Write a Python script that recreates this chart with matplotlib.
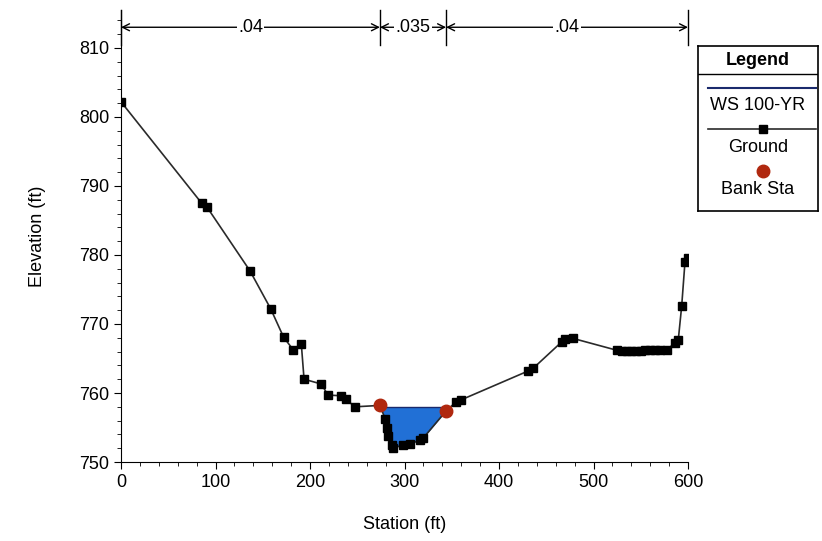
import numpy as np
import matplotlib.pyplot as plt
from matplotlib.lines import Line2D

plt.rcParams['font.family'] = ['Liberation Sans', 'DejaVu Sans']

# ground profile
station = [0, 85.4, 90.7, 136.5, 158.4, 172.0, 182.0, 190.8, 193.7, 212, 219, 233,
           237.8, 247.6, 274, 279.4, 281.2, 282.9, 286.4, 288.2, 298.7, 305.8,
           316.4, 320, 344, 354.5, 359.8, 431, 436.3, 466.3, 469.8, 478.6,
           524.5, 530, 535, 540, 545, 550, 555, 560, 565, 570, 577.4,
           586.2, 589.7, 593.3, 596.8, 600]
elevation = [802.2, 787.5, 787.0, 777.7, 772.2, 768.1, 766.3, 767.1, 762.0, 761.3,
             759.7, 759.6, 759.1, 758.0, 758.2, 756.3, 754.9, 753.7, 752.5, 752.0,
             752.5, 752.6, 753.2, 753.5, 757.4, 758.7, 759.0, 763.2, 763.6, 767.4,
             767.8, 767.9, 766.2, 766.1, 766.1, 766.1, 766.1, 766.1, 766.2, 766.2,
             766.2, 766.3, 766.3, 767.2, 767.7, 772.6, 779.0, 779.5]

bank_sta = [274, 344]
bank_elev = [758.2, 757.4]
ws_elev = 758.0

n_breaks = [0, 274, 344, 600]
n_values = ['.04', '.035', '.04']

fs = 13

fig = plt.figure(figsize=(8.22, 5.41), dpi=100)
ax = fig.add_axes([0.1472, 0.146, 0.6898, 0.8355])

st = np.array(station)
el = np.array(elevation)
wet = (st >= bank_sta[0]) & (st <= bank_sta[1])
ax.fill_between(st, el, ws_elev, where=wet & (el <= ws_elev), interpolate=True,
                color='#2170d6', lw=0, zorder=1)
ax.plot(bank_sta, [ws_elev, ws_elev], color='#1a2a6c', lw=1, zorder=2)
ax.plot(st, el, color='#2a2a2a', lw=1.2, marker='s', ms=6,
        mfc='black', mec='black', zorder=3)
ax.plot(bank_sta, bank_elev, 'o', color='#b0280f', ms=9, zorder=4)

ax.set_xlim(0, 600)
ax.set_ylim(750, 815.5)
ax.set_xticks(np.arange(0, 601, 100))
ax.set_xticks(np.arange(0, 601, 20), minor=True)
ax.set_yticks(np.arange(750, 811, 10))
ax.set_yticks(np.arange(750, 816, 2), minor=True)
ax.tick_params(which='major', length=5, labelsize=fs)
ax.tick_params(which='minor', length=3)
for s in ['top', 'right']:
    ax.spines[s].set_visible(False)
ax.set_xlabel('Station (ft)', fontsize=fs, labelpad=18)
ax.set_ylabel('Elevation (ft)', fontsize=fs, labelpad=24)

# Manning's n bands along the top
y_arr = 813.0
for b in n_breaks:
    ax.plot([b, b], [810.4, 815.5], color='black', lw=1, clip_on=False)
for i, txt in enumerate(n_values):
    x0, x1 = n_breaks[i], n_breaks[i + 1]
    ax.annotate('', xy=(x0, y_arr), xytext=(x1, y_arr),
                arrowprops=dict(arrowstyle='<->,head_length=0.5,head_width=0.25',
                                color='black', lw=1, shrinkA=0, shrinkB=0),
                annotation_clip=False)
    ax.text((x0 + x1) / 2, y_arr, txt, ha='center', va='center', fontsize=fs,
            bbox=dict(fc='white', ec='none', pad=1), zorder=5)

# legend box drawn by hand (symbols above labels)
lax = fig.add_axes([698 / 822, 1 - 211 / 541, 120 / 822, 165 / 541])
lax.set_xlim(0, 1)
lax.set_ylim(0, 1)
lax.set_xticks([])
lax.set_yticks([])
for s in lax.spines.values():
    s.set_linewidth(1.2)
lax.text(0.5, 0.915, 'Legend', ha='center', va='center', fontsize=fs, fontweight='bold')
lax.add_line(Line2D([0, 1], [0.83, 0.83], color='black', lw=1))
lax.add_line(Line2D([0.08, 0.98], [0.745, 0.745], color='#1a2a6c', lw=1.5))
lax.text(0.5, 0.64, 'WS 100-YR', ha='center', va='center', fontsize=fs)
lax.add_line(Line2D([0.08, 0.98], [0.5, 0.5], color='#2a2a2a', lw=1.2))
lax.add_line(Line2D([0.54], [0.5], marker='s', ms=6, color='black'))
lax.text(0.5, 0.385, 'Ground', ha='center', va='center', fontsize=fs)
lax.add_line(Line2D([0.54], [0.24], marker='o', ms=9, color='#b0280f'))
lax.text(0.5, 0.13, 'Bank Sta', ha='center', va='center', fontsize=fs)

fig.savefig('out.png', dpi=100)
